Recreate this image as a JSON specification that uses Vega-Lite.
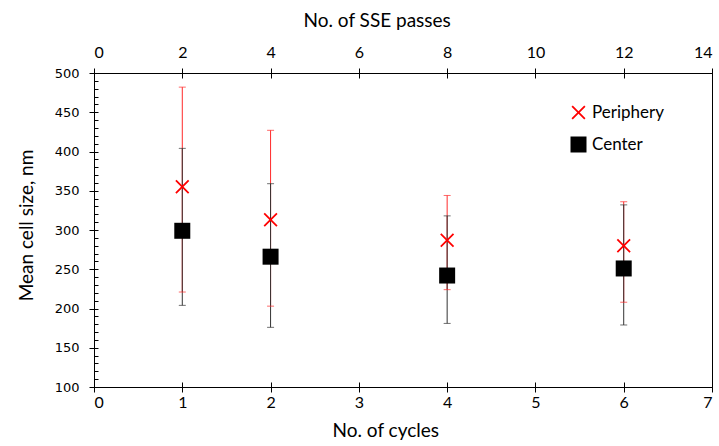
{
  "$schema": "https://vega.github.io/schema/vega-lite/v6.json",
  "width": 618,
  "height": 314,
  "autosize": "none",
  "padding": {"left": 94, "top": 73, "right": 7, "bottom": 59},
  "background": "white",
  "config": {
    "view": {"stroke": "#000", "strokeWidth": 1},
    "axis": {"domainColor": "#000", "tickColor": "#000", "labelColor": "#000", "titleColor": "#000", "grid": false, "labelFont": "Lato", "titleFont": "Lato", "titleFontWeight": "normal", "labelFontSize": 16, "titleFontSize": 19}
  },
  "data": {
    "values": [
      {"series": "Periphery", "cycles": 1, "mean": 355, "lo": 221, "hi": 482},
      {"series": "Periphery", "cycles": 2, "mean": 313, "lo": 203, "hi": 427},
      {"series": "Periphery", "cycles": 4, "mean": 287, "lo": 224, "hi": 344},
      {"series": "Periphery", "cycles": 6, "mean": 280, "lo": 208, "hi": 336},
      {"series": "Center", "cycles": 1, "mean": 299, "lo": 204, "hi": 404},
      {"series": "Center", "cycles": 2, "mean": 266, "lo": 176, "hi": 359},
      {"series": "Center", "cycles": 4, "mean": 242, "lo": 181, "hi": 318},
      {"series": "Center", "cycles": 6, "mean": 251, "lo": 179, "hi": 332}
    ]
  },
  "resolve": {"axis": {"x": "independent", "y": "independent"}},
  "layer": [
    {
      "transform": [{"filter": "datum.series === 'Periphery'"}],
      "mark": {"type": "rule", "color": "#ff2a2a", "strokeWidth": 1},
      "encoding": {
        "x": {"field": "cycles", "type": "quantitative", "scale": {"domain": [0, 7], "nice": false, "zero": false},
          "axis": {"orient": "bottom", "values": [0,1,2,3,4,5,6,7], "tickSize": 5, "labelPadding": 2, "title": "No. of cycles", "titlePadding": 11, "titleX": 238, "titleAlign": "left"}},
        "y": {"field": "lo", "type": "quantitative", "scale": {"domain": [100, 500], "nice": false, "zero": false},
          "axis": {"orient": "left", "values": [100,150,200,250,300,350,400,450,500], "tickSize": 5, "labelPadding": 10, "labelFont": "DejaVu Sans", "labelFontSize": 13, "title": "Mean cell size, nm", "titleFontSize": 19, "titlePadding": 18, "titleY": 152}},
        "y2": {"field": "hi"}
      }
    },
    {
      "transform": [{"filter": "datum.series === 'Center'"}],
      "mark": {"type": "rule", "color": "#333", "strokeWidth": 1},
      "encoding": {
        "x": {"field": "cycles", "type": "quantitative", "axis": null},
        "y": {"field": "lo", "type": "quantitative", "axis": null},
        "y2": {"field": "hi"}
      }
    },
    {
      "transform": [{"filter": "datum.series === 'Periphery'"}],
      "mark": {"type": "tick", "orient": "horizontal", "color": "#ff2a2a", "size": 7, "thickness": 1},
      "encoding": {
        "x": {"field": "cycles", "type": "quantitative", "axis": null},
        "y": {"field": "lo", "type": "quantitative", "axis": null}
      }
    },
    {
      "transform": [{"filter": "datum.series === 'Periphery'"}],
      "mark": {"type": "tick", "orient": "horizontal", "color": "#ff2a2a", "size": 7, "thickness": 1},
      "encoding": {
        "x": {"field": "cycles", "type": "quantitative", "axis": null},
        "y": {"field": "hi", "type": "quantitative", "axis": null}
      }
    },
    {
      "transform": [{"filter": "datum.series === 'Center'"}],
      "mark": {"type": "tick", "orient": "horizontal", "color": "#333", "size": 7, "thickness": 1},
      "encoding": {
        "x": {"field": "cycles", "type": "quantitative", "axis": null},
        "y": {"field": "lo", "type": "quantitative", "axis": null}
      }
    },
    {
      "transform": [{"filter": "datum.series === 'Center'"}],
      "mark": {"type": "tick", "orient": "horizontal", "color": "#333", "size": 7, "thickness": 1},
      "encoding": {
        "x": {"field": "cycles", "type": "quantitative", "axis": null},
        "y": {"field": "hi", "type": "quantitative", "axis": null}
      }
    },
    {
      "mark": {"type": "point", "filled": true, "opacity": 1},
      "encoding": {
        "x": {"field": "cycles", "type": "quantitative", "axis": null},
        "y": {"field": "mean", "type": "quantitative", "axis": null},
        "color": {"field": "series", "type": "nominal", "scale": {"domain": ["Periphery", "Center"], "range": ["#ff0000", "#000000"]},
          "legend": {"title": null, "orient": "none", "legendX": 476, "legendY": 31, "labelFont": "Lato", "labelFontSize": 17, "labelColor": "#000", "rowPadding": 14, "symbolStrokeWidth": 0, "labelOffset": 5}},
        "shape": {"field": "series", "type": "nominal", "scale": {"domain": ["Periphery", "Center"], "range": ["M-1,-0.82L-0.82,-1L0,-0.18L0.82,-1L1,-0.82L0.18,0L1,0.82L0.82,1L0,0.18L-0.82,1L-1,0.82L-0.18,0Z", "square"]}},
        "size": {"field": "series", "type": "nominal", "scale": {"domain": ["Periphery", "Center"], "range": [196, 256]}}
      }
    },
    {
      "mark": {"type": "point", "opacity": 0},
      "encoding": {
        "x": {"field": "cycles", "type": "quantitative",
          "axis": {"orient": "top", "values": [0,1,2,3,4,5,6,7], "labelExpr": "datum.value * 2", "tickSize": 5, "labelPadding": 8, "title": "No. of SSE passes", "titlePadding": 14, "titleX": 209, "titleAlign": "left", "domain": true}},
        "y": {"field": "mean", "type": "quantitative", "axis": null}
      }
    },
    {
      "mark": {"type": "point", "opacity": 0},
      "encoding": {
        "x": {"field": "cycles", "type": "quantitative",
          "axis": {"orient": "bottom", "values": [0,1,2,3,4,5,6,7], "tickSize": -5, "labels": false, "domain": false, "title": null}},
        "y": {"field": "mean", "type": "quantitative",
          "axis": {"orient": "left", "values": [100,110,120,130,140,150,160,170,180,190,200,210,220,230,240,250,260,270,280,290,300,310,320,330,340,350,360,370,380,390,400,410,420,430,440,450,460,470,480,490,500], "tickSize": -4, "labels": false, "domain": false, "title": null}}
      }
    },
    {
      "mark": {"type": "point", "opacity": 0},
      "encoding": {
        "x": {"field": "cycles", "type": "quantitative",
          "axis": {"orient": "top", "values": [0,1,2,3,4,5,6,7], "tickSize": -5, "labels": false, "domain": false, "title": null}},
        "y": {"field": "mean", "type": "quantitative", "axis": null}
      }
    }
  ]
}
